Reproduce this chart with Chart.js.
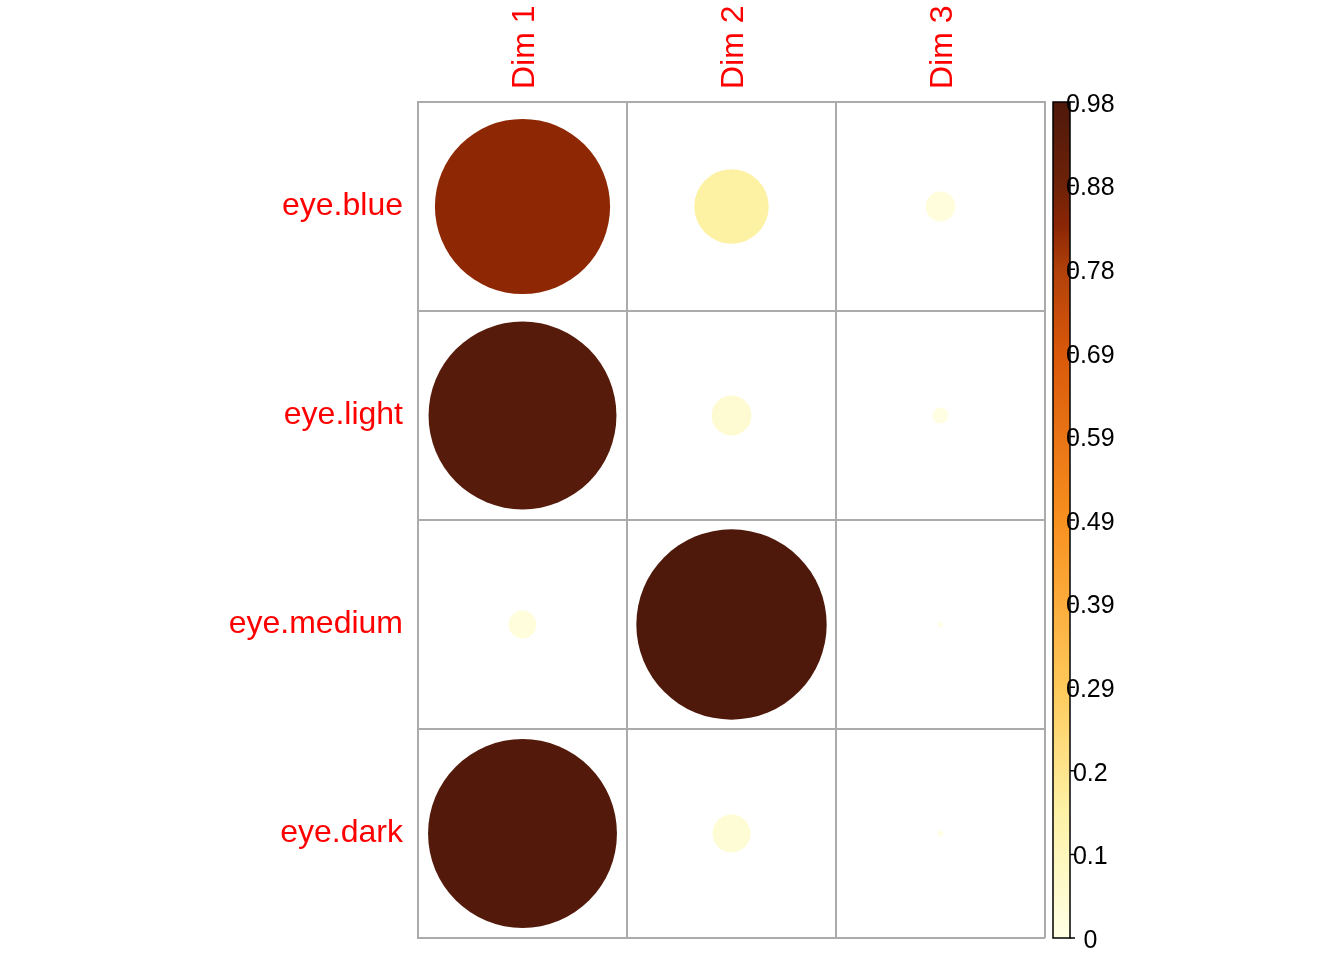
<!DOCTYPE html>
<html>
<head>
<meta charset="utf-8">
<title>eye colour cos2</title>
<script src="https://cdn.jsdelivr.net/npm/chart.js@4.4.1/dist/chart.umd.min.js"></script>
<style>
    html, body { margin: 0; padding: 0; background: #fff; }
    canvas { display: block; }
</style>
</head>
<body>
<canvas id="corrChart" width="1344" height="960"></canvas>
<script>
// values
const dims = ['Dim 1', 'Dim 2', 'Dim 3'];
const rows = ['eye.blue', 'eye.light', 'eye.medium', 'eye.dark'];
const dim1 = [0.83, 0.955, 0.021, 0.965];
const dim2 = [0.15, 0.043, 0.98, 0.039];
const dim3 = [0.024, 0.007, 0.0007, 0.0009];
const cbTickValues = [0, 0.098, 0.196, 0.294, 0.392, 0.49, 0.588, 0.686, 0.784, 0.882, 0.98];
const cbTickLabels = ['0', '0.1', '0.2', '0.29', '0.39', '0.49', '0.59', '0.69', '0.78', '0.88', '0.98'];

// colour ramp (fraction of the legend range -> colour)
const palette = [
    [0, '#FFFFE5'],
    [0.15, '#FDF2A6'],
    [0.3, '#FEC95A'],
    [0.5, '#F8901F'],
    [0.7, '#D9580A'],
    [0.8, '#B0400A'],
    [0.85, '#8C2604'],
    [0.9, '#6E2208'],
    [1, '#4E190B']
];

const GRID = '#ABABAB';
const FONT = '"Liberation Sans", Arial, sans-serif';
const cbMin = cbTickValues[0];
const cbMax = cbTickValues[cbTickValues.length - 1];

function hexToRgb(h) {
    return [1, 3, 5].map(i => parseInt(h.slice(i, i + 2), 16));
}

function valueColor(v) {
    const t = Math.min(1, Math.max(0, (v - cbMin) / (cbMax - cbMin)));
    for (let i = 1; i < palette.length; i++) {
        if (t <= palette[i][0]) {
            const [p0, c0] = palette[i - 1];
            const [p1, c1] = palette[i];
            const f = (t - p0) / (p1 - p0);
            const a = hexToRgb(c0), b = hexToRgb(c1);
            const c = a.map((x, k) => Math.round(x + (b[k] - x) * f));
            return `rgb(${c[0]},${c[1]},${c[2]})`;
        }
    }
    return palette[palette.length - 1][1];
}

function cellRadius(c) {
    const cell = c.chart.scales.x.width / dims.length;
    return 0.46 * cell * Math.sqrt(c.raw.v);
}

const columns = [dim1, dim2, dim3];
const points = [];
rows.forEach((r, i) => {
    dims.forEach((d, j) => {
        points.push({ x: d, y: r, v: columns[j][i] });
    });
});

// legend bar drawn under the axis labels, placed with the cb scale
const colorBar = {
    id: 'colorBar',
    beforeDraw(chart) {
        const s = chart.scales.cb;
        const ctx = chart.ctx;
        const top = s.getPixelForValue(cbMax);
        const bottom = s.getPixelForValue(cbMin);
        const x0 = s.left + 8;
        const w = 17;
        const g = ctx.createLinearGradient(0, bottom, 0, top);
        palette.forEach(([p, c]) => g.addColorStop(p, c));
        ctx.save();
        ctx.fillStyle = g;
        ctx.fillRect(x0, top, w, bottom - top);
        ctx.strokeStyle = '#000';
        ctx.lineWidth = 1.5;
        ctx.strokeRect(x0, top, w, bottom - top);
        ctx.beginPath();
        s.ticks.forEach(t => {
            const y = s.getPixelForValue(t.value);
            ctx.moveTo(x0 + w, y);
            ctx.lineTo(x0 + w + 5, y);
        });
        ctx.stroke();
        ctx.restore();
    }
};

const ctx = document.getElementById('corrChart').getContext('2d');
new Chart(ctx, {
    type: 'scatter',
    data: {
        datasets: [{
            data: points,
            pointStyle: 'circle',
            pointBorderWidth: 0,
            pointRadius: cellRadius,
            pointHoverRadius: cellRadius,
            pointBackgroundColor: (c) => valueColor(c.raw.v),
            pointBorderColor: (c) => valueColor(c.raw.v)
        }]
    },
    options: {
        responsive: false,
        devicePixelRatio: 1,
        animation: false,
        layout: { padding: { left: 0, right: 0, top: 0, bottom: 22 } },
        plugins: {
            legend: { display: false },
            tooltip: { enabled: false }
        },
        scales: {
            x: {
                type: 'category',
                labels: dims,
                position: 'top',
                offset: true,
                grid: { offset: true, color: GRID, lineWidth: 2, drawTicks: false },
                border: { display: true, color: GRID, width: 2 },
                ticks: {
                    color: '#FF0000',
                    font: { family: FONT, size: 32 },
                    minRotation: 90,
                    maxRotation: 90,
                    padding: 13,
                    labelOffset: 41
                },
                afterFit: (s) => { s.height = 102; s.paddingLeft = 0; s.paddingRight = 0; }
            },
            y: {
                type: 'category',
                labels: rows,
                offset: true,
                grid: { offset: true, color: GRID, lineWidth: 2, drawTicks: false },
                border: { display: true, color: GRID, width: 2 },
                ticks: {
                    color: '#FF0000',
                    font: { family: FONT, size: 32 },
                    padding: 15
                },
                afterFit: (s) => { s.width = 418; s.paddingTop = 0; s.paddingBottom = 0; }
            },
            cb: {
                type: 'linear',
                position: 'right',
                min: cbMin,
                max: cbMax,
                grid: { display: false, drawTicks: false },
                border: { display: false },
                ticks: {
                    color: '#000',
                    font: { family: FONT, size: 25 },
                    crossAlign: 'center',
                    padding: 21,
                    labelOffset: 3,
                    autoSkip: false,
                    callback: (val, i) => cbTickLabels[i]
                },
                afterBuildTicks: (s) => { s.ticks = cbTickValues.map(v => ({ value: v })); },
                afterFit: (s) => { s.width = 299; s.paddingTop = 0; s.paddingBottom = 0; }
            }
        }
    },
    plugins: [colorBar]
});
</script>
</body>
</html>
